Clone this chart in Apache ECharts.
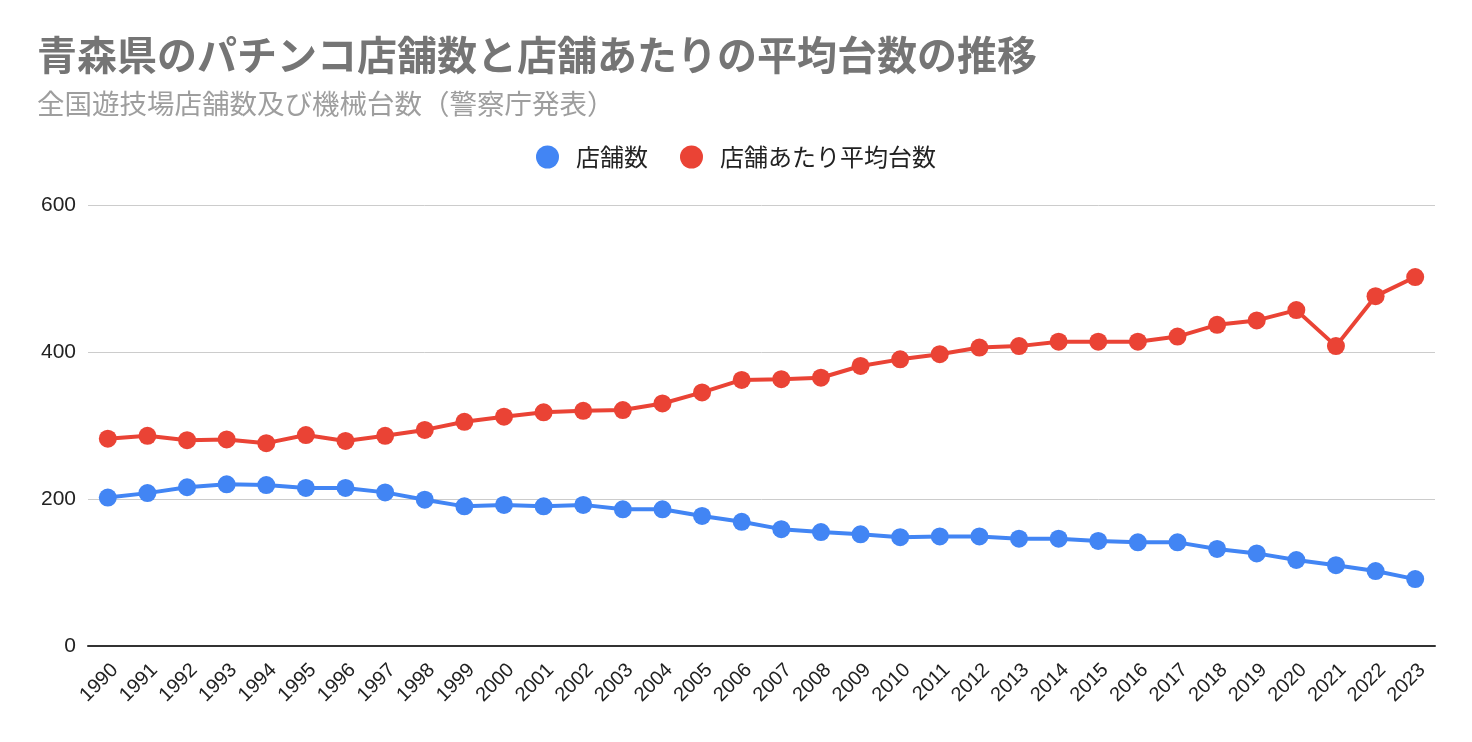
<!DOCTYPE html>
<html>
<head>
<meta charset="utf-8">
<script src="https://cdn.jsdelivr.net/npm/echarts@6/dist/echarts.min.js"></script>
<style>
html,body{margin:0;padding:0;background:#fff;}
#chart{width:1472px;height:742px;}
</style>
</head>
<body>
<div id="chart"></div>
<script>
const years = ['1990','1991','1992','1993','1994','1995','1996','1997','1998','1999','2000','2001','2002','2003','2004','2005','2006','2007','2008','2009','2010','2011','2012','2013','2014','2015','2016','2017','2018','2019','2020','2021','2022','2023'];
const storeCount = [202,208,216,220,219,215,215,209,199,190,192,190,192,186,186,177,169,159,155,152,148,149,149,146,146,143,141,141,132,126,117,110,102,91];
const avgMachines = [282,286,280,281,276,287,279,286,294,305,312,318,320,321,330,345,362,363,365,381,390,397,406,408,414,414,414,421,437,443,457,408,476,502];
const seriesNames = ['店舗数','店舗あたり平均台数'];
const titleText = '青森県のパチンコ店舗数と店舗あたりの平均台数の推移';
const subtitleText = '全国遊技場店舗数及び機械台数（警察庁発表）';

const cjk = '"Noto Sans CJK JP", "Liberation Sans", sans-serif';
const latin = '"Liberation Sans", Arial, sans-serif';

const chart = echarts.init(document.getElementById('chart'));
chart.setOption({
  backgroundColor: '#ffffff',
  animation: false,
  title: {
    text: titleText,
    subtext: subtitleText,
    left: 32,
    top: 30,
    itemGap: 15,
    textStyle: {fontFamily: cjk, fontSize: 40, fontWeight: 'bold', color: '#757575'},
    subtextStyle: {fontFamily: cjk, fontSize: 27.5, color: '#9e9e9e'}
  },
  legend: {
    top: 140,
    left: 'center',
    icon: 'circle',
    itemWidth: 23,
    itemHeight: 23,
    itemGap: 32,
    textStyle: {fontFamily: cjk, fontSize: 24, color: '#222222', padding: [0, 0, 0, 12]},
    data: seriesNames
  },
  grid: {left: 88, right: 37, top: 205, bottom: 96, containLabel: false},
  xAxis: {
    type: 'category',
    data: years,
    boundaryGap: true,
    axisLine: {lineStyle: {color: '#333333', width: 2}},
    axisTick: {show: false},
    axisLabel: {rotate: 45, fontFamily: latin, fontSize: 20, color: '#222222', margin: 14, interval: 0, verticalAlign: 'top'}
  },
  yAxis: {
    type: 'value',
    min: 0,
    max: 600,
    interval: 200,
    axisLine: {show: false},
    axisTick: {show: false},
    splitLine: {lineStyle: {color: '#cccccc', width: 1}},
    axisLabel: {fontFamily: latin, fontSize: 21, color: '#222222', margin: 12}
  },
  series: [
    {
      name: seriesNames[0],
      type: 'line',
      data: storeCount,
      symbol: 'circle',
      symbolSize: 18,
      lineStyle: {width: 4, color: '#4285F4'},
      itemStyle: {color: '#4285F4'}
    },
    {
      name: seriesNames[1],
      type: 'line',
      data: avgMachines,
      symbol: 'circle',
      symbolSize: 18,
      lineStyle: {width: 4, color: '#EA4335'},
      itemStyle: {color: '#EA4335'}
    }
  ]
});
</script>
</body>
</html>
